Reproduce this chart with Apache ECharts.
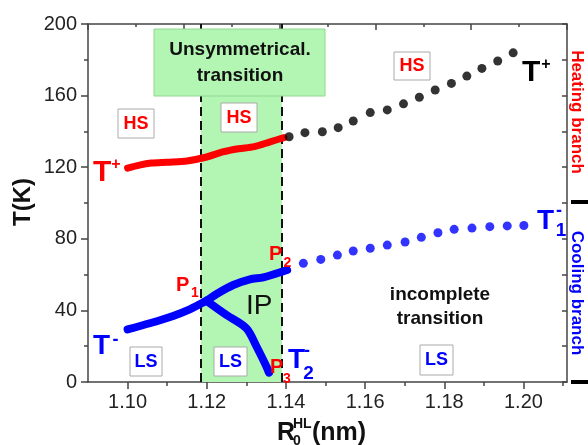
<!DOCTYPE html>
<html><head><meta charset="utf-8">
<script src="https://cdn.jsdelivr.net/npm/echarts@6/dist/echarts.min.js"></script>
<style>html,body{margin:0;padding:0;background:#fff}#c{width:588px;height:445px}</style>
</head><body><div id="c"></div>
<script>
// ---- data ----
const heatLineX = [1.100, 1.103, 1.106, 1.110, 1.115, 1.120, 1.124, 1.128, 1.132, 1.136, 1.1395];
const heatLineY = [119.5, 121.2, 122.3, 122.8, 123.5, 125.7, 128.5, 130.3, 131.5, 134.2, 136.5];
const heatDotX = [1.1408, 1.1448, 1.1492, 1.1532, 1.1570, 1.1613, 1.1656, 1.1697, 1.1737, 1.1777, 1.1818, 1.1857, 1.1895, 1.1935, 1.1974];
const heatDotY = [137.0, 139.3, 139.8, 142.1, 145.8, 150.5, 152.0, 155.4, 159.1, 163.1, 166.8, 170.9, 175.2, 179.3, 183.9];
const coolLineX = [1.100, 1.1056, 1.1115, 1.1157, 1.1187, 1.1199, 1.1225, 1.1267, 1.1309, 1.1343, 1.1403];
const coolLineY = [29.4, 32.8, 36.9, 40.6, 44.0, 45.4, 49.2, 54.2, 57.4, 58.5, 62.6];
const coolBranchX = [1.1199, 1.1250, 1.1300, 1.1326, 1.1351, 1.1357];
const coolBranchY = [45.4, 37.4, 30.0, 19.7, 8.5, 5.2];
const coolDotX = [1.1444, 1.1488, 1.1530, 1.1570, 1.1613, 1.1656, 1.1701, 1.1742, 1.1784, 1.1825, 1.1870, 1.1915, 1.1959, 1.2001];
const coolDotY = [66.3, 68.5, 70.9, 73.2, 74.7, 76.5, 78.2, 80.8, 83.4, 85.3, 86.0, 86.8, 87.2, 87.4];
const xMajorTicks = [1.10, 1.12, 1.14, 1.16, 1.18, 1.20];
const xMinorTicks = [1.11, 1.13, 1.15, 1.17, 1.19, 1.21];
const regionBounds = [1.1185, 1.139];

const pairs = (xs, ys) => xs.map((x, i) => [x, ys[i]]);
const FF = "'Liberation Sans', Arial, sans-serif";
const AX = '#444';

function txt(s, x, y, size, color, weight, align, rot) {
  return {
    type: 'text', x: x, y: y, rotation: rot || 0, z: 100,
    style: { text: s, fill: color, font: (weight || 'bold') + ' ' + size + 'px ' + FF,
             align: align || 'left', verticalAlign: 'middle' }
  };
}
function box(s, x1, y1, x2, y2, color) {
  return [
    { type: 'rect', z: 99, shape: { x: x1, y: y1, width: x2 - x1, height: y2 - y1 },
      style: { fill: '#fff', stroke: '#aaa', lineWidth: 1 } },
    txt(s, (x1 + x2) / 2, (y1 + y2) / 2 + 0.5, 18, color, 'bold', 'center')
  ];
}

const graphics = [].concat(
  [{ type: 'rect', z: 98, shape: { x: 154, y: 29, width: 171, height: 67 },
     style: { fill: '#b3f5b3', stroke: '#8fd88f', lineWidth: 1 } }],
  [txt('Unsymmetrical.', 240, 50, 19, '#111', 'bold', 'center'),
   txt('transition', 240, 76, 19, '#111', 'bold', 'center')],
  box('HS', 118, 109, 154, 138, '#ff0000'),
  box('HS', 221, 103, 257, 132, '#ff0000'),
  box('HS', 394, 52, 430, 80, '#ff0000'),
  box('LS', 130, 347, 162, 376, '#0000ff'),
  box('LS', 214, 347, 247, 376, '#0000ff'),
  box('LS', 420, 345, 453, 375, '#0000ff'),
  [
    txt('T', 93, 173, 30, '#ff0000'), txt('+', 116, 165, 16, '#ff0000', 'bold', 'center'),
    txt('T', 522, 73, 30, '#000'), txt('+', 546, 65, 16, '#000', 'bold', 'center'),
    txt('T', 93, 346, 28, '#0000ff'), txt('-', 115.5, 340, 18, '#0000ff', 'bold', 'center'),
    txt('T', 288, 360, 28, '#0000ff'), txt('-', 307, 351, 18, '#0000ff', 'bold', 'center'),
    txt('2', 308.5, 374, 19, '#0000ff', 'bold', 'center'),
    txt('T', 537, 221, 28, '#0000ff'), txt('-', 559, 211, 18, '#0000ff', 'bold', 'center'),
    txt('1', 561, 231, 19, '#0000ff', 'bold', 'center'),
    txt('P', 176, 285, 20, '#ff0000'), txt('1', 195, 293, 14, '#ff0000', 'bold', 'center'),
    txt('P', 269, 254, 20, '#ff0000'), txt('2', 287.5, 263, 14, '#ff0000', 'bold', 'center'),
    txt('P', 270, 367, 20, '#ff0000'), txt('3', 287, 379, 14, '#ff0000', 'bold', 'center'),
    txt('IP', 246, 306, 28, '#111', 'normal'),
    txt('incomplete', 440, 295, 19, '#111', 'bold', 'center'),
    txt('transition', 440, 319, 19, '#111', 'bold', 'center'),
    txt('Heating branch', 577, 112, 17, '#ff0000', 'bold', 'center', -Math.PI / 2),
    txt('Cooling branch', 577, 293, 17, '#0000ff', 'bold', 'center', -Math.PI / 2),
    txt('T(K)', 23, 202, 24, '#111', 'bold', 'center', Math.PI / 2),
    txt('R', 277, 433, 25, '#111'),
    txt('HL', 293, 424, 14, '#111'),
    txt('0', 293, 441, 14, '#111'),
    txt('(nm)', 312, 433, 25, '#111'),
    { type: 'rect', z: 100, shape: { x: 571, y: 200, width: 17, height: 4 }, style: { fill: '#000' } },
    { type: 'rect', z: 100, shape: { x: 571, y: 380, width: 17, height: 4 }, style: { fill: '#000' } }
  ]
);

const chart = echarts.init(document.getElementById('c'), null, { renderer: 'canvas' });
chart.setOption({
  animation: false,
  backgroundColor: '#fff',
  grid: { left: 88, right: 21, top: 24, bottom: 63 },
  xAxis: [
    { type: 'value', min: 1.09, max: 1.211, position: 'bottom',
      axisLine: { lineStyle: { color: AX, width: 1.5 } },
      axisTick: { customValues: xMajorTicks, length: 7, lineStyle: { color: AX, width: 1.5 } },
      axisLabel: { customValues: xMajorTicks, fontSize: 20, fontFamily: FF, color: '#222', margin: 10,
                   formatter: v => v.toFixed(2) },
      splitLine: { show: false } },
    { type: 'value', min: 1.09, max: 1.211, position: 'bottom',
      axisLine: { show: false },
      axisTick: { customValues: xMinorTicks, length: 4, lineStyle: { color: AX, width: 1.5 } },
      axisLabel: { show: false }, splitLine: { show: false } },
    { type: 'value', min: 0, max: 10, interval: 2, position: 'top',
      axisLine: { lineStyle: { color: AX, width: 1.5 } },
      axisTick: { inside: true, length: 6, lineStyle: { color: AX, width: 1.5 } },
      minorTick: { show: true, splitNumber: 2, length: 3, lineStyle: { color: AX, width: 1.5 } },
      axisLabel: { show: false }, splitLine: { show: false } }
  ],
  yAxis: [
    { type: 'value', min: 0, max: 200, interval: 40, position: 'left',
      axisLine: { show: true, lineStyle: { color: AX, width: 1.5 } },
      axisTick: { show: true, length: 7, lineStyle: { color: AX, width: 1.5 } },
      minorTick: { show: true, splitNumber: 2, length: 4, lineStyle: { color: AX, width: 1.5 } },
      axisLabel: { fontSize: 20, fontFamily: FF, color: '#222', margin: 11 },
      splitLine: { show: false } },
    { type: 'value', min: 0, max: 200, interval: 20, position: 'right',
      axisLine: { show: true, lineStyle: { color: AX, width: 1.5 } },
      axisTick: { show: true, inside: true, length: 5, lineStyle: { color: AX, width: 1.5 } },
      axisLabel: { show: false }, splitLine: { show: false } }
  ],
  series: [
    { type: 'line', data: [], z: 1, silent: true,
      markArea: { silent: true, itemStyle: { color: '#b3f5b3', opacity: 1 },
        data: [[{ xAxis: regionBounds[0], yAxis: 0 }, { xAxis: regionBounds[1], yAxis: 180 }]] },
      markLine: { silent: true, symbol: 'none', precision: 5, label: { show: false },
        lineStyle: { color: '#111', width: 2, type: [9, 5] },
        data: [{ xAxis: regionBounds[0] }, { xAxis: regionBounds[1] }] } },
    { type: 'line', z: 5, data: pairs(heatLineX, heatLineY), showSymbol: false, smooth: 0.3,
      lineStyle: { color: '#ff0000', width: 7, cap: 'round', join: 'round' } },
    { type: 'scatter', z: 6, data: pairs(heatDotX, heatDotY), symbolSize: 9,
      itemStyle: { color: '#000' } },
    { type: 'line', z: 5, data: pairs(coolLineX, coolLineY), showSymbol: false, smooth: 0.3,
      lineStyle: { color: '#0000ff', width: 8, cap: 'round', join: 'round' } },
    { type: 'line', z: 5, data: pairs(coolBranchX, coolBranchY), showSymbol: false, smooth: 0.3,
      lineStyle: { color: '#0000ff', width: 8, cap: 'round', join: 'round' } },
    { type: 'scatter', z: 6, data: pairs(coolDotX, coolDotY), symbolSize: 9,
      itemStyle: { color: '#0000ff' } }
  ],
  graphic: graphics
});
</script></body></html>
